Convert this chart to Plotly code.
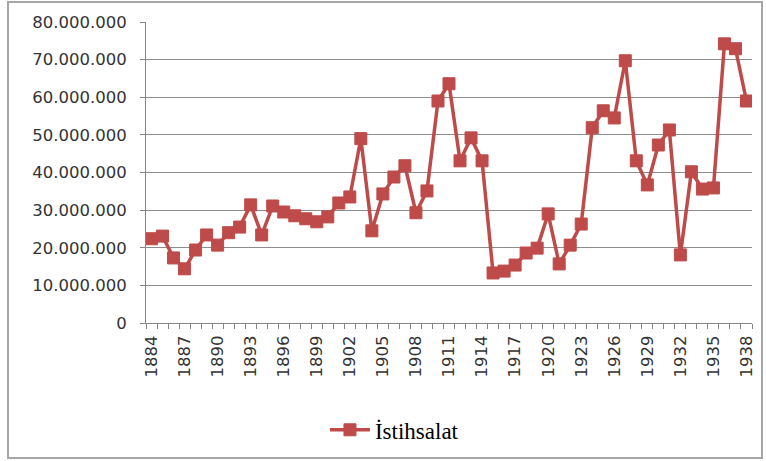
import plotly.graph_objects as go

years = list(range(1884, 1939))
istihsalat = [
    22.4, 23.1, 17.3, 14.4, 19.4, 23.4, 20.7, 24.0, 25.5, 31.4,
    23.4, 31.1, 29.5, 28.5, 27.7, 26.9, 28.2, 31.9, 33.5, 49.0,
    24.5, 34.3, 38.8, 41.8, 29.3, 35.1, 59.0, 63.6, 43.1, 49.2,
    43.1, 13.3, 13.8, 15.4, 18.6, 19.9, 29.0, 15.7, 20.7, 26.3,
    51.9, 56.4, 54.5, 69.7, 43.1, 36.7, 47.3, 51.3, 18.1, 40.2,
    35.6, 35.9, 74.2, 72.9, 59.0,
]
values = [v * 1_000_000 for v in istihsalat]
label_years = list(range(1884, 1939, 3))
y_ticks = list(range(0, 80_000_001, 10_000_000))
y_labels = [f"{v:,}".replace(",", ".") for v in y_ticks]

RED = "#BE4B4A"
fig = go.Figure()
fig.add_trace(go.Scatter(
    x=years, y=values, mode="lines+markers", name="İstihsalat",
    line=dict(color=RED, width=3.5),
    marker=dict(symbol="square", size=12, color=RED, line=dict(color=RED, width=1)),
))

fig.update_layout(
    width=766, height=461,
    margin=dict(l=146, r=14, t=22, b=138, autoexpand=False),
    paper_bgcolor="white", plot_bgcolor="white",
    font=dict(family="DejaVu Sans", size=16.5, color="#333333"),
    showlegend=True,
    legend=dict(orientation="h", x=0.41, y=-0.355, xanchor="center", yanchor="middle",
                font=dict(family="Liberation Serif", size=23, color="#000000"),
                itemwidth=40),
    xaxis=dict(
        range=[1883.5, 1938.5], tickmode="array", tickvals=label_years,
        ticktext=[str(y) for y in label_years], tickangle=-90,
        ticks="", showgrid=False, zeroline=False, automargin=False,
        showline=True, linecolor="#868686", linewidth=1,
        minor=dict(tickmode="linear", tick0=1883.5, dtick=1, ticks="outside",
                   ticklen=5, tickcolor="#868686", showgrid=False),
        ticklabelstandoff=5,
    ),
    yaxis=dict(
        range=[0, 80_000_000], tickmode="array", tickvals=y_ticks, ticktext=y_labels,
        ticks="outside", ticklen=5, tickcolor="#868686", automargin=False,
        showgrid=True, gridcolor="#8C8C8C", gridwidth=1,
        zeroline=False, showline=True, linecolor="#868686", linewidth=1,
        ticklabelstandoff=10,
    ),
    shapes=[dict(type="rect", xref="paper", yref="paper",
                 x0=(8 - 146) / 606, x1=(762 - 146) / 606,
                 y0=(323 - 458) / 301, y1=(323 - 2) / 301,
                 line=dict(color="#A6A6A6", width=2), fillcolor="rgba(0,0,0,0)",
                 layer="below")],
)

fig.write_html("out.html", config={"displayModeBar": False},
               post_script="document.body.style.margin='0';document.body.style.overflow='hidden';")
